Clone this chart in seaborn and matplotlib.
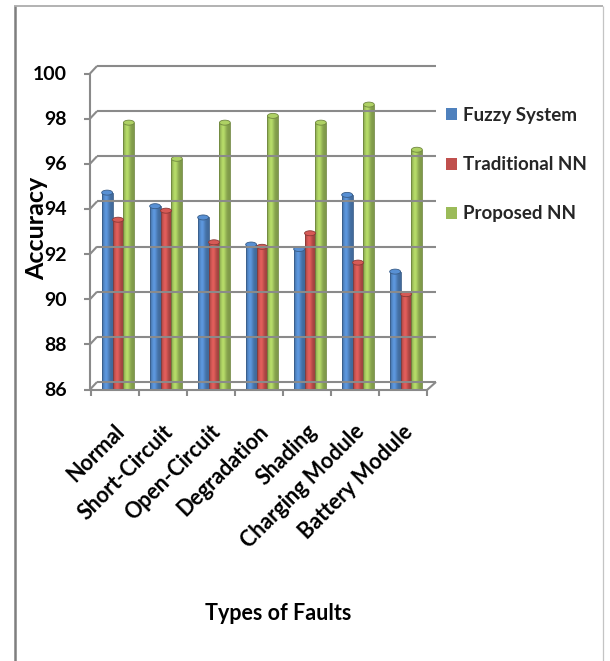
import matplotlib
matplotlib.use("Agg")
import matplotlib.pyplot as plt
import numpy as np
import pandas as pd
import seaborn as sns
from matplotlib import transforms
from matplotlib.lines import Line2D
from matplotlib.patches import Ellipse, Patch
from matplotlib.colors import to_rgb

# ---- data -------------------------------------------------------------
categories = ["Normal", "Short-Circuit", "Open-Circuit", "Degradation",
              "Shading", "Charging Module", "Battery Module"]
fuzzy_system = [94.7, 94.1, 93.6, 92.4, 92.2, 94.6, 91.2]
traditional_nn = [93.5, 93.9, 92.5, 92.3, 92.9, 91.6, 90.2]
proposed_nn = [97.8, 96.2, 97.8, 98.1, 97.8, 98.6, 96.6]
series_names = ["Fuzzy System", "Traditional NN", "Proposed NN"]
series_colors = ["#4F81BD", "#C0504D", "#9BBB59"]
y_ticks = [86, 88, 90, 92, 94, 96, 98, 100]

df = pd.DataFrame({
    "Fault": categories,
    series_names[0]: fuzzy_system,
    series_names[1]: traditional_nn,
    series_names[2]: proposed_nn,
}).melt(id_vars="Fault", var_name="Model", value_name="Accuracy")

# ---- style ------------------------------------------------------------
sns.set_theme(style="white")
plt.rcParams["font.family"] = ["Lato", "DejaVu Sans"]
plt.rcParams["font.weight"] = "bold"

W, H, DPI = 610, 661, 100
fig = plt.figure(figsize=(W / DPI, H / DPI), dpi=DPI)
fig.patch.set_facecolor("white")

# plot box in pixels (left, right, top, bottom)
L, R, T, B = 94, 430, 73, 389
ax = fig.add_axes([L / W, 1 - B / H, (R - L) / W, (B - T) / H])

sns.barplot(data=df, x="Fault", y="Accuracy", hue="Model",
            hue_order=series_names, palette=series_colors, saturation=1,
            width=0.68, gap=0, errorbar=None, legend=False, ax=ax,
            zorder=3)
ax.set_ylim(y_ticks[0], y_ticks[-1])
ax.set_xlim(-0.5, len(categories) - 0.5)
ax.set_facecolor("none")
for s in ax.spines.values():
    s.set_visible(False)
ax.set_xlabel("")
ax.set_ylabel("")

GRAY = "#8A8A8A"
LW = 1.5
px_per_unit = (B - T) / (y_ticks[-1] - y_ticks[0])


def to_px(x, y):
    X, Y = ax.transData.transform((x, y))
    return X, H - Y


def seg(xs, ys, color=GRAY, lw=LW, z=1):
    fig.add_artist(Line2D(xs, [H - v for v in ys], color=color, lw=lw,
                          transform=transforms.IdentityTransform(),
                          zorder=z, solid_capstyle="butt"))


# ---- shaded cylinders --------------------------------------------------
t = np.linspace(0, 1, 64)
profile = 0.82 + 0.36 * np.exp(-((t - 0.38) / 0.28) ** 2)
for patch in list(ax.patches):
    x0, w, h = patch.get_x(), patch.get_width(), patch.get_height()
    if h <= 0:
        continue
    base = np.array(to_rgb(patch.get_facecolor()))
    grad = np.clip(base[None, :] * profile[:, None], 0, 1)[None, :, :]
    ax.imshow(grad, extent=[x0, x0 + w, y_ticks[0], h], aspect="auto",
              interpolation="bilinear", zorder=3.5)
    dark = tuple(base * 0.72)
    patch.set_edgecolor(dark)
    patch.set_linewidth(0.6)
    patch.set_facecolor("none")
    patch.set_zorder(3.6)
    ax.add_patch(Ellipse((x0 + w / 2, h), w, 5 / px_per_unit,
                         facecolor=tuple(np.clip(base * 1.12, 0, 1)),
                         edgecolor=dark, lw=0.6, zorder=3.7))
ax.set_ylim(y_ticks[0], y_ticks[-1])
ax.set_xlim(-0.5, len(categories) - 0.5)

# ---- 3-D frame: back wall gridlines, front axes ------------------------
DX, DY = 7, 7           # depth of the wall
xl, _ = to_px(-0.5, 0)
xr, _ = to_px(len(categories) - 0.5, 0)
for v in y_ticks:
    _, yv = to_px(0, v)
    seg([xl + 3, xr + 6], [yv - DY, yv - DY])
    seg([xl - 4, xl + 3], [yv + 0.5, yv - DY])
    seg([xl - 10, xl - 4], [yv + 0.5, yv + 0.5])
_, ytop = to_px(0, y_ticks[-1])
_, ybot = to_px(0, y_ticks[0])
seg([xl - 4, xl - 4], [ytop, ybot + 1])
seg([xl - 4, xr - 3], [ybot + 1, ybot + 1])
seg([xr - 3, xr + 6], [ybot + 1, ybot - DY])
for k in range(len(categories) + 1):
    xk, _ = to_px(k - 0.5, 0)
    seg([xk - 3, xk - 3], [ybot + 1, ybot + 7])

# ---- tick labels -------------------------------------------------------
ax.set_yticks(y_ticks)
ax.set_yticklabels([str(v) for v in y_ticks])
ax.tick_params(axis="y", length=0, pad=19.5, labelsize=14)
ax.set_xticks(range(len(categories)))
ax.set_xticklabels(categories, rotation=45, ha="right", va="top",
                   rotation_mode="anchor")
ax.tick_params(axis="x", length=0, pad=23, labelsize=15.5)
shift = transforms.ScaledTranslation(-4 / DPI, 0, fig.dpi_scale_trans)
for lab in ax.get_xticklabels():
    lab.set_transform(lab.get_transform() + shift)
for lab in ax.get_yticklabels() + ax.get_xticklabels():
    lab.set_fontweight("bold")
    lab.set_color("black")

# ---- axis titles -------------------------------------------------------
fig.text(37 / W, 1 - 228 / H, "Accuracy", rotation=90, ha="center",
         va="center", fontsize=18, fontweight="bold", color="black")
fig.text(278 / W, 1 - 613 / H, "Types of Faults", ha="center",
         va="center", fontsize=15.5, fontweight="bold", color="black")

# ---- legend ------------------------------------------------------------
handles = [Patch(facecolor=c, edgecolor="none") for c in series_colors]
fig.legend(handles, series_names, loc="upper left",
           bbox_to_anchor=(446 / W, 1 - 107 / H), frameon=False,
           handlelength=0.6, handleheight=0.6,
           handletextpad=0.3, labelspacing=1.72, borderpad=0,
           borderaxespad=0, prop={"weight": "bold", "size": 13.5})

# ---- outer border ------------------------------------------------------
seg([14.5, 14.5], [6, H], color="#7F7F7F", lw=1.8, z=5)
seg([14, 603], [6, 6], color="#A6A6A6", lw=1.2, z=5)
seg([603, 603], [6, H], color="#C4C4C4", lw=0.9, z=5)

fig.savefig("out.png", dpi=DPI, facecolor="white")
